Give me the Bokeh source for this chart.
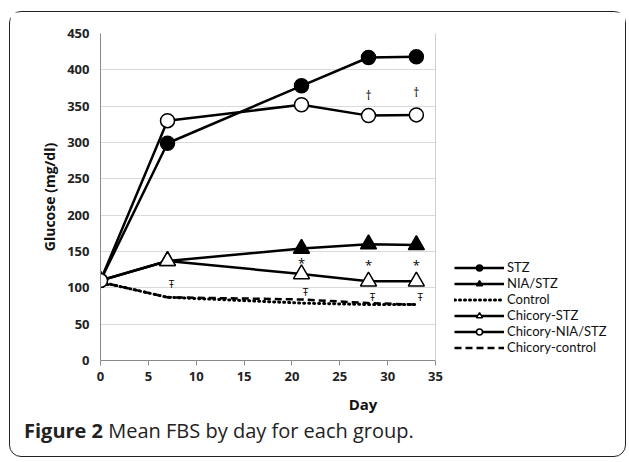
from bokeh.plotting import figure
from bokeh.models import Legend, LegendItem, Div, FixedTicker, BoxAnnotation, Span
from bokeh.layouts import column
from bokeh.core.properties import value
from bokeh.embed import file_html
from bokeh.resources import INLINE

days = [0, 7, 21, 28, 33]
stz = [110, 299, 378, 417, 418]
nia_stz = [110, 137, 154, 160, 159]
control = [108, 87, 79, 77, 77]
chic_stz = [110, 137, 119, 109, 109]
chic_nia_stz = [110, 330, 352, 337, 338]
chic_control = [108, 87, 84, 79, 77]

dagger_x = [28, 33]
dagger_y = [365, 369]
star_x = [21, 28, 33]
star_y = [134, 131, 131]
tstroke_x = [7, 21, 28, 33]
tstroke_y = [105, 94, 87, 88]

x_ticks = [0, 5, 10, 15, 20, 25, 30, 35]
y_ticks = [0, 50, 100, 150, 200, 250, 300, 350, 400, 450]
X_MAX = 35
Y_MAX = 450

FONT = "Open Sans"
LEG_FONT = "Lato"

PLOT_W = 335
LEFT = 90
FIG_W = 615
FRAME_W = FIG_W - LEFT
p = figure(width=FIG_W, height=406, output_backend="svg", toolbar_location=None,
           x_range=(0, X_MAX * FRAME_W / PLOT_W), y_range=(0, Y_MAX),
           min_border_left=LEFT, min_border_right=0, min_border_top=21, min_border_bottom=58)
p.background_fill_color = "white"
p.border_fill_color = "white"
p.outline_line_color = None
p.xgrid.visible = False
p.ygrid.grid_line_color = "#d9d9d9"
p.ygrid.grid_line_width = 1

p.xaxis.ticker = FixedTicker(ticks=x_ticks)
p.yaxis.ticker = FixedTicker(ticks=y_ticks)
p.xaxis.bounds = (0, X_MAX)
for ax in (p.xaxis, p.yaxis):
    ax.axis_line_color = "#8a8a8a"
    ax.major_tick_line_color = "#8a8a8a"
    ax.minor_tick_line_color = None
    ax.major_label_text_font = FONT
    ax.major_label_text_font_style = "bold"
    ax.major_label_text_font_size = "13px"
    ax.major_label_text_color = "#222"
    ax.axis_label_text_font = FONT
    ax.axis_label_text_font_style = "bold"
    ax.axis_label_text_font_size = "14px"
    ax.axis_label_text_color = "#111"
p.xaxis.major_tick_in = 0
p.xaxis.major_tick_out = 5
p.yaxis.major_tick_in = 0
p.yaxis.major_tick_out = 0
p.xaxis.major_label_standoff = 6
p.yaxis.major_label_standoff = 11
p.xaxis.axis_label = "Day"
p.yaxis.axis_label = "Glucose (mg/dl)"
p.xaxis.axis_label_text_font_size = "15px"
p.xaxis.axis_label_standoff = 10
p.yaxis.axis_label_standoff = 5

# lines
r_ctrl = p.line(days, control, line_color="black", line_width=3, line_dash="1 4", line_cap="round")
r_cctrl = p.line(days, chic_control, line_color="black", line_width=2.5, line_dash="7 4")
l_stz = p.line(days, stz, line_color="black", line_width=2.5)
l_nia = p.line(days, nia_stz, line_color="black", line_width=2.5)
l_cstz = p.line(days, chic_stz, line_color="black", line_width=2.5)
l_cnia = p.line(days, chic_nia_stz, line_color="black", line_width=2.5)

m_stz = p.scatter(days, stz, marker="circle", size=14, fill_color="black", line_color="black", line_width=1.5)
m_nia = p.scatter(days, nia_stz, marker="triangle", size=16, fill_color="black", line_color="black", line_width=1.5)
m_cstz = p.scatter(days, chic_stz, marker="triangle", size=16, fill_color="white", line_color="black", line_width=1.5)
m_cnia = p.scatter(days, chic_nia_stz, marker="circle", size=14, fill_color="white", line_color="black", line_width=1.5)

# significance marks
p.text(dagger_x, dagger_y, text=["\u2020"] * len(dagger_x), text_font=value(FONT),
       text_font_size="12px", text_align="center", text_baseline="middle", text_color="black")
p.text(star_x, star_y, text=["*"] * len(star_x), text_font=value(FONT),
       text_font_size="13px", text_align="center", text_baseline="middle", text_color="black")
p.text(tstroke_x, tstroke_y, text=["\u0166"] * len(tstroke_x), text_font=value(FONT),
       text_font_size="10px", text_align="center", text_baseline="middle", text_color="black",
       x_offset=4)

# blank out the area right of the plot region (legend area)
p.add_layout(BoxAnnotation(left=X_MAX, fill_color="white", fill_alpha=1, line_color=None))
p.add_layout(Span(location=X_MAX, dimension="height", line_color="#d0d0d0", line_width=1))

legend = Legend(items=[
    LegendItem(label="STZ", renderers=[l_stz, m_stz]),
    LegendItem(label="NIA/STZ", renderers=[l_nia, m_nia]),
    LegendItem(label="Control", renderers=[r_ctrl]),
    LegendItem(label="Chicory-STZ", renderers=[l_cstz, m_cstz]),
    LegendItem(label="Chicory-NIA/STZ", renderers=[l_cnia, m_cnia]),
    LegendItem(label="Chicory-control", renderers=[r_cctrl]),
], location=(354, 5), orientation="vertical")
legend.background_fill_alpha = 0
legend.border_line_color = None
legend.padding = 0
legend.margin = 0
legend.spacing = 0
legend.label_height = 15
legend.glyph_height = 15
legend.glyph_width = 50
legend.label_standoff = 3
legend.label_text_font = LEG_FONT
legend.label_text_font_size = "13px"
legend.label_text_color = "#111"
p.add_layout(legend)

caption = Div(text="<b>Figure 2</b> Mean FBS by day for each group.", width=600, height=38,
              margin=0,
              styles={"font-family": "'Open Sans', sans-serif", "font-size": "20px",
                      "line-height": "26px", "color": "#222", "padding-left": "14px",
                      "padding-top": "0px"})

layout = column(p, caption, styles={"border": "1.5px solid #222", "border-radius": "12px",
                                     "background-color": "white", "margin-left": "9px",
                                     "margin-top": "11px"})

open("out.html", "w").write(file_html(layout, INLINE))
